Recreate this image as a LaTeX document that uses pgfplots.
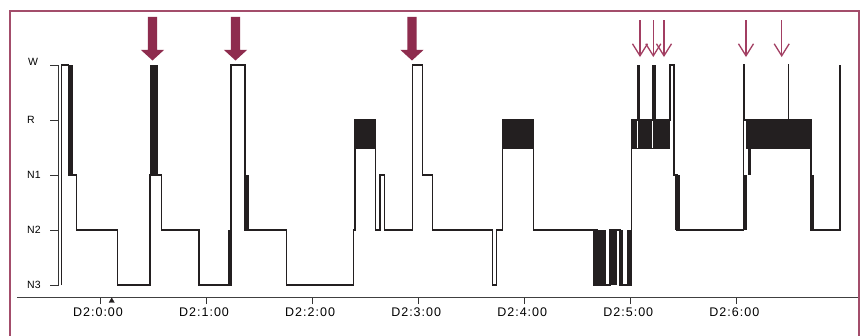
\documentclass[border=0pt]{standalone}
\usepackage{fontspec}
\setmainfont{Liberation Sans}
\newfontfamily\lblfont[LetterSpace=8]{Liberation Sans}
\usepackage{pgfplots}
\pgfplotsset{compat=1.18}
\usetikzlibrary{arrows.meta}
\definecolor{frame}{HTML}{A34D6B}
\definecolor{thickarr}{HTML}{8E2C4E}
\definecolor{thinarr}{HTML}{A23E62}
\definecolor{ink}{HTML}{231F20}
\newcommand{\blk}[4]{\addplot[fill=ink, draw=none, forget plot] coordinates {(#1,#3) (#2,#3) (#2,#4) (#1,#4)};}
\begin{document}
\begin{tikzpicture}
\path[use as bounding box] (0,0) rectangle (868pt,335pt);
\fill[white] (0,0) rectangle (868pt,335pt);
\draw[frame, line width=1.1pt] (10pt,-3pt) -- (10pt,324pt) -- (859pt,324pt) -- (859pt,-3pt);
\begin{axis}[
  at={(17pt,38pt)}, anchor=south west, scale only axis,
  width=841pt, height=287pt,
  xmin=-46.956, xmax=428.83, ymin=-0.21818, ymax=5,
  axis x line=bottom, axis y line=none,
  axis line style={-, draw=black!75, line width=0.9pt},
  xtick={0,60,120,180,240,300,360},
  xticklabels={D2:0:00,D2:1:00,D2:2:00,D2:3:00,D2:4:00,D2:5:00,D2:6:00},
  tick align=outside, major tick length=7pt,
  tick style={black!80, line width=0.8pt},
  xticklabel style={font=\lblfont\fontsize{12.5}{14}\selectfont, anchor=center, xshift=-2pt, yshift=-8.5pt},
  ytick=\empty, clip=false,
]
% REM blocks and thick segments
\blk{-17.93}{-15.44}{2}{4}
\blk{28.29}{32.98}{2}{4}
\blk{72.58}{74.11}{0}{1}
\blk{82.03}{84.46}{1}{2}
\blk{144.43}{155.97}{2.47}{3}
\blk{227.25}{245.53}{2.47}{3}
\blk{300.22}{322.47}{2.47}{3}
\blk{365.30}{402.24}{2.47}{3}
\blk{281.17}{286.54}{0}{1}
\blk{288.53}{292.49}{0}{1}
\blk{294.18}{295.88}{0}{1}
\blk{298.15}{300.80}{0}{1}
\blk{303.62}{305.50}{3}{4}
\blk{312.46}{314.38}{3}{4}
\blk{325.30}{328.13}{1}{2}
\blk{363.94}{366.20}{1}{2}
\blk{366.60}{368.30}{2}{2.47}
\blk{402.24}{404.11}{1}{2}
\addplot[white, line width=0.8pt, forget plot] coordinates {(304.15,2.49) (304.15,2.98)};
\addplot[white, line width=0.8pt, forget plot] coordinates {(312.46,2.49) (312.46,2.98)};
% hypnogram trace
\addplot[ink, line width=1.1pt, line join=miter] table {
-21.90 0
-21.90 4
-17.93 4
-17.93 2
-13.18 2
-13.18 1
10.01 1
10.01 0
28.29 0
28.29 2
34.91 2
34.91 1
56.01 1
56.01 0
74.11 0
74.11 4
82.03 4
82.03 1
105.62 1
105.62 0
143.30 0
143.30 1
144.26 1
144.26 3
155.97 3
155.97 1
158.41 1
158.41 2
160.84 2
160.84 1
176.91 1
176.91 4
182.57 4
182.57 2
188.23 2
188.23 1
222.16 1
222.16 0
224.42 0
224.42 1
227.59 1
227.59 3
245.30 3
245.30 1
279.48 1
279.48 0
280.61 0
280.61 1
281.17 1
281.17 0
288.53 0
288.53 1
294.18 1
294.18 0
300.80 0
300.80 3
322.47 3
322.47 4
324.73 4
324.73 2
326.43 2
326.43 1
363.94 1
363.94 4
364.62 4
364.62 3
389.39 3
389.39 4
389.67 4
389.67 3
402.24 3
402.24 1
418.65 1
418.65 4
};
% y axis
\draw[black!80, line width=0.8pt] (axis cs:-23.30,0) -- (axis cs:-23.30,4);
\draw[black!80, line width=0.8pt] (axis cs:-23.30,0) -- (axis cs:-28.287,0);
\draw[black!80, line width=0.8pt] (axis cs:-23.30,1) -- (axis cs:-28.287,1);
\draw[black!80, line width=0.8pt] (axis cs:-23.30,2) -- (axis cs:-28.287,2);
\draw[black!80, line width=0.8pt] (axis cs:-23.30,3) -- (axis cs:-28.287,3);
\draw[black!80, line width=0.8pt] (axis cs:-23.30,4) -- (axis cs:-28.287,4);
\node[anchor=west, inner sep=0pt, font=\fontsize{10.5}{12}\selectfont] at (axis cs:-41.3,0) {N3};
\node[anchor=west, inner sep=0pt, font=\fontsize{10.5}{12}\selectfont] at (axis cs:-41.3,1) {N2};
\node[anchor=west, inner sep=0pt, font=\fontsize{10.5}{12}\selectfont] at (axis cs:-41.3,2) {N1};
\node[anchor=west, inner sep=0pt, font=\fontsize{10.5}{12}\selectfont] at (axis cs:-41.3,3) {R};
\node[anchor=west, inner sep=0pt, font=\fontsize{10.5}{12}\selectfont] at (axis cs:-40.8,4.05) {W};
% marker on time axis
\addplot[only marks, mark=triangle*, mark size=3pt, ink] coordinates {(6.62,-0.29)};
% thick arrows
\addplot[fill=thickarr, draw=none] coordinates {(27.15,4.873) (32.25,4.873) (32.25,4.273) (36.21,4.273) (29.70,4.082) (23.19,4.273) (27.15,4.273)};
\addplot[fill=thickarr, draw=none] coordinates {(74.11,4.873) (79.21,4.873) (79.21,4.273) (83.17,4.273) (76.66,4.082) (70.15,4.273) (74.11,4.273)};
\addplot[fill=thickarr, draw=none] coordinates {(173.96,4.873) (179.06,4.873) (179.06,4.273) (183.02,4.273) (176.51,4.082) (170.00,4.273) (173.96,4.273)};
% thin arrows
\addplot[thinarr, line width=1.3pt, -{Straight Barb[length=12pt,width=15pt]}] coordinates {(305.50,4.818) (305.50,4.145)};
\addplot[thinarr, line width=1.3pt, -{Straight Barb[length=12pt,width=15pt]}] coordinates {(313.02,4.818) (313.02,4.145)};
\addplot[thinarr, line width=1.3pt, -{Straight Barb[length=12pt,width=15pt]}] coordinates {(319.07,4.818) (319.07,4.145)};
\addplot[thinarr, line width=1.3pt, -{Straight Barb[length=12pt,width=15pt]}] coordinates {(365.46,4.818) (365.46,4.145)};
\addplot[thinarr, line width=1.3pt, -{Straight Barb[length=12pt,width=15pt]}] coordinates {(385.66,4.818) (385.66,4.145)};
\end{axis}
\end{tikzpicture}
\end{document}
